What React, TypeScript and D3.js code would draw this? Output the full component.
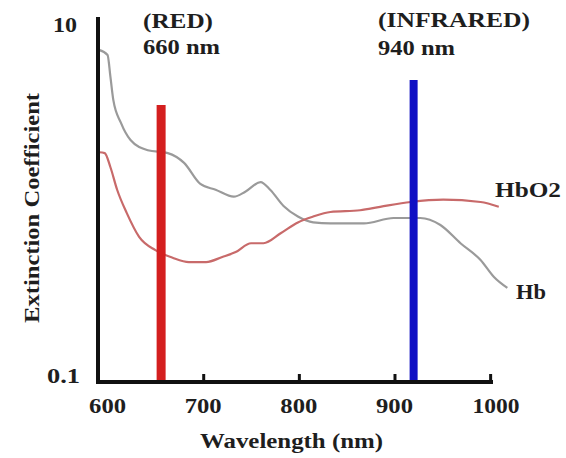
import React, { useEffect, useRef } from 'react';
import * as d3 from 'd3';

// Hb (deoxy) curve
const hbWavelength = [591, 600, 603, 606, 614, 624, 642, 663, 680, 697, 713, 732, 744, 760, 770, 784, 799, 815, 833, 868, 899, 927, 948, 969, 990, 1004, 1018];
const hbValues = [7.0, 6.56, 4.95, 3.69, 2.75, 2.21, 1.94, 1.87, 1.65, 1.26, 1.17, 1.07, 1.14, 1.29, 1.17, 0.95, 0.83, 0.77, 0.76, 0.76, 0.815, 0.815, 0.745, 0.59, 0.476, 0.383, 0.333];

// HbO2 curve
const hbo2Wavelength = [591, 597, 603, 610, 620, 633, 650, 668, 685, 703, 720, 734, 750, 763, 781, 799, 815, 833, 864, 885, 917, 951, 990, 1009];
const hbo2Values = [1.89, 1.87, 1.56, 1.17, 0.87, 0.64, 0.54, 0.49, 0.464, 0.464, 0.495, 0.527, 0.59, 0.59, 0.67, 0.77, 0.83, 0.88, 0.9, 0.94, 1.0, 1.03, 1.0, 0.94];

// the two LED bars
const barNames = ['red', 'infrared'];
const barWavelength = [656, 920];
const barTop = [3.46, 4.76];
const barColors = ['#d41f1f', '#1010c4'];

const xTicks = [600, 700, 800, 900, 1000];
const yTicks = [0.1, 10];

const font = '"Liberation Serif", "Times New Roman", serif';

export default function App() {
  const ref = useRef<SVGSVGElement>(null);

  useEffect(() => {
    const svg = d3.select(ref.current);
    svg.selectAll('*').remove();

    const x = d3.scaleLinear().domain([590, 1003]).range([98, 493]);
    const y = d3.scaleLog().domain([0.1, 10]).range([382, 22]);

    const label = (txt: string, px: number, py: number, len: number, anchor = 'start') =>
      svg.append('text')
        .attr('x', px)
        .attr('y', py)
        .attr('dy', '0.35em')
        .attr('text-anchor', anchor)
        .attr('font-family', font)
        .attr('font-weight', 'bold')
        .attr('font-size', 20)
        .attr('fill', '#1e1e1e')
        .attr('textLength', len)
        .attr('lengthAdjust', 'spacingAndGlyphs')
        .text(txt);

    // curves
    const line = d3.line<[number, number]>()
      .x(d => x(d[0]))
      .y(d => y(d[1]))
      .curve(d3.curveMonotoneX);

    svg.append('path')
      .datum(hbWavelength.map((w, i) => [w, hbValues[i]] as [number, number]))
      .attr('d', line)
      .attr('fill', 'none')
      .attr('stroke', '#9a9a9a')
      .attr('stroke-width', 2.2);

    svg.append('path')
      .datum(hbo2Wavelength.map((w, i) => [w, hbo2Values[i]] as [number, number]))
      .attr('d', line)
      .attr('fill', 'none')
      .attr('stroke', '#c86a6a')
      .attr('stroke-width', 2.2);

    // bars
    svg.selectAll('.led')
      .data(barNames)
      .enter()
      .append('line')
      .attr('class', 'led')
      .attr('x1', (d, i) => x(barWavelength[i]))
      .attr('x2', (d, i) => x(barWavelength[i]))
      .attr('y1', y(0.1))
      .attr('y2', (d, i) => y(barTop[i]))
      .attr('stroke', (d, i) => barColors[i])
      .attr('stroke-width', (d, i) => (i === 0 ? 9 : 8));

    // axes
    const xAxis = d3.axisBottom(x)
      .tickValues(xTicks)
      .tickSizeInner(-8)
      .tickSizeOuter(0)
      .tickFormat(() => '');

    const gx = svg.append('g')
      .attr('transform', `translate(0,${y(0.1)})`)
      .call(xAxis);
    gx.select('.domain').remove();
    gx.selectAll('.tick line').attr('stroke', '#111').attr('stroke-width', 3);
    gx.selectAll('.tick').filter((d: any) => d === 600).remove();

    svg.append('line')
      .attr('x1', x(590)).attr('x2', x(1003))
      .attr('y1', y(0.1)).attr('y2', y(0.1))
      .attr('stroke', '#111').attr('stroke-width', 4);
    svg.append('line')
      .attr('x1', x(590)).attr('x2', x(590))
      .attr('y1', y(0.1) + 2).attr('y2', y(10) - 5)
      .attr('stroke', '#111').attr('stroke-width', 4);

    xTicks.forEach(t => {
      label(String(t), x(t) + (t === 1000 ? 6 : 0), 406, t === 1000 ? 47 : 37, 'middle');
    });
    yTicks.forEach(t => {
      label(String(t), t === 10 ? 77 : 80, y(t) + (t === 10 ? 3 : -6), t === 10 ? 24 : 33, 'end');
    });

    label('(RED)', 143, 21, 70);
    label('660 nm', 143, 47, 77);
    label('(INFRARED)', 378, 20, 152);
    label('940 nm', 378, 48, 77);
    label('HbO2', 495, 190, 66);
    label('Hb', 516, 292, 30);
    label('Wavelength (nm)', 200, 441, 183);

    label('Extinction Coefficient', 0, 0, 230, 'middle')
      .attr('transform', 'translate(32,208) rotate(-90)');
  }, []);

  return (
    <div style={{ position: 'absolute', left: 0, top: 0 }}>
      <svg ref={ref} width={566} height={458} style={{ display: 'block', background: '#fff' }} />
    </div>
  );
}
